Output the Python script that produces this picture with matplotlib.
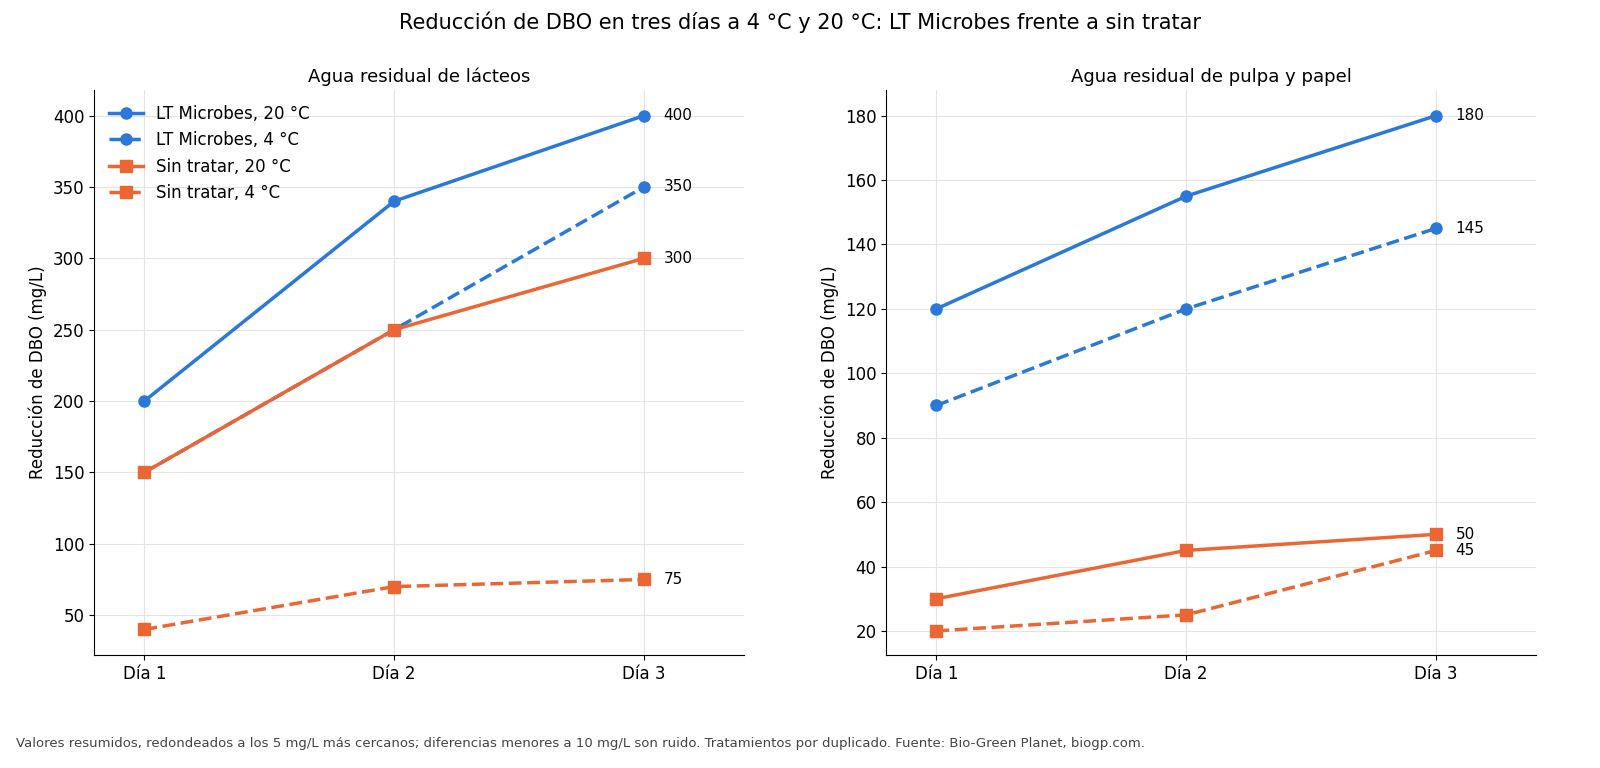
import matplotlib
matplotlib.use("Agg")
import matplotlib.pyplot as plt

days = ["Día 1", "Día 2", "Día 3"]
dairy_lt20 = [200, 340, 400]
dairy_lt4 = [150, 250, 350]
dairy_st20 = [150, 250, 300]
dairy_st4 = [40, 70, 75]
pulp_lt20 = [120, 155, 180]
pulp_lt4 = [90, 120, 145]
pulp_st20 = [30, 45, 50]
pulp_st4 = [20, 25, 45]

BLUE = "#2a78d8"
ORANGE = "#eb6633"

fig = plt.figure(figsize=(16, 7.68), dpi=100)
ax1 = fig.add_axes([0.059, 0.147, 0.406, 0.736])
ax2 = fig.add_axes([0.554, 0.147, 0.406, 0.736])

def draw(ax, lt20, lt4, st20, st4, title, labels_vals, legend):
    x = range(len(days))
    ax.plot(x, lt20, color=BLUE, lw=2.5, marker="o", ms=8, label="LT Microbes, 20 °C")
    ax.plot(x, lt4, color=BLUE, lw=2.5, ls="--", marker="o", ms=8, label="LT Microbes, 4 °C")
    ax.plot(x, st20, color=ORANGE, lw=2.5, marker="s", ms=8, label="Sin tratar, 20 °C")
    ax.plot(x, st4, color=ORANGE, lw=2.5, ls="--", marker="s", ms=8, label="Sin tratar, 4 °C")
    for s in (lt20, lt4, st20, st4):
        if s[-1] in labels_vals:
            ax.annotate(str(s[-1]), (2, s[-1]), xytext=(14, 0), textcoords="offset points",
                        va="center", fontsize=11)
    ax.set_xticks(list(x))
    ax.set_xticklabels(days, fontsize=12)
    ax.tick_params(axis="y", labelsize=12)
    ax.set_xlim(-0.2, 2.4)
    ax.set_ylabel("Reducción de DBO (mg/L)", fontsize=12)
    ax.set_title(title, fontsize=13)
    ax.grid(True, color="#e3e3e3", lw=0.8)
    ax.set_axisbelow(True)
    for sp in ("top", "right"):
        ax.spines[sp].set_visible(False)
    if legend:
        ax.legend(loc="upper left", fontsize=12, frameon=False)

draw(ax1, dairy_lt20, dairy_lt4, dairy_st20, dairy_st4, "Agua residual de lácteos", [400, 350, 300, 75], True)
ax1.set_ylim(22, 418)
draw(ax2, pulp_lt20, pulp_lt4, pulp_st20, pulp_st4, "Agua residual de pulpa y papel", [180, 145, 50, 45], False)
ax2.set_ylim(12.5, 188)

fig.suptitle("Reducción de DBO en tres días a 4 °C y 20 °C: LT Microbes frente a sin tratar", fontsize=15, y=0.985)
fig.text(0.01, 0.027, "Valores resumidos, redondeados a los 5 mg/L más cercanos; diferencias menores a 10 mg/L son ruido. Tratamientos por duplicado. Fuente: Bio-Green Planet, biogp.com.",
         fontsize=9.5, color="#444444")
fig.savefig("out.png", dpi=100)
